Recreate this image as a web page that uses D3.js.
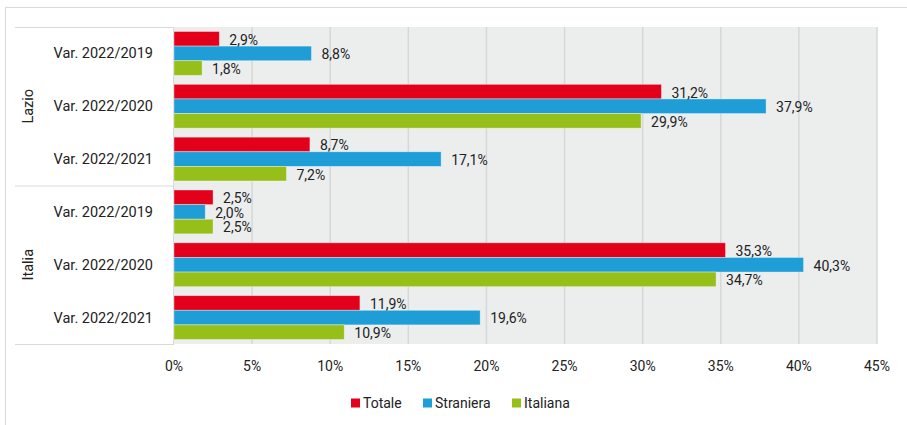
<!DOCTYPE html>
<html>
<head>
<meta charset="utf-8">
<script src="https://cdn.jsdelivr.net/npm/d3@7"></script>
<style>
  html, body { margin: 0; padding: 0; background: #fff; }
  svg { display: block; font-family: Roboto, "Noto Sans", sans-serif; }
</style>
</head>
<body>
<svg id="chart" width="907" height="425"></svg>
<script>
// Variazioni percentuali per area e periodo
const regions = ["Lazio", "Italia"];
const periods = ["Var. 2022/2019", "Var. 2022/2020", "Var. 2022/2021"];
const seriesNames = ["Totale", "Straniera", "Italiana"];
const seriesColors = ["#e2001a", "#1f9dd6", "#97bf19"];
const totale    = [2.9, 31.2, 8.7, 2.5, 35.3, 11.9];
const straniera = [8.8, 37.9, 17.1, 2.0, 40.3, 19.6];
const italiana  = [1.8, 29.9, 7.2, 2.5, 34.7, 10.9];
const tickValues = [0, 5, 10, 15, 20, 25, 30, 35, 40, 45];

const seriesValues = [totale, straniera, italiana];
const rows = [];
regions.forEach((r, ri) => periods.forEach((p, pi) => rows.push({ region: r, period: p, key: r + "|" + p, idx: ri * periods.length + pi })));

const svg = d3.select("#chart");
const fmt = v => d3.format(".1f")(v).replace(".", ",") + "%";

// outer frame
svg.append("rect").attr("x", 5.5).attr("y", 7.5).attr("width", 920).attr("height", 430)
  .attr("fill", "none").attr("stroke", "#d9d9d9");

const plotL = 174, plotR = 877, plotT = 27, plotB = 344;
const x = d3.scaleLinear().domain([0, 45]).range([plotL, plotR]);
const y = d3.scaleBand().domain(rows.map(d => d.key)).range([plotT, plotB]).paddingInner(0.17).paddingOuter(0.085);
const yg = d3.scaleBand().domain(d3.range(3)).range([0, y.bandwidth()]);

// plot background and grid
svg.append("rect").attr("x", plotL).attr("y", plotT).attr("width", plotR - plotL).attr("height", plotB - plotT).attr("fill", "#eceeee");
svg.append("g").selectAll("line").data(tickValues.filter(t => t > 0)).join("line")
  .attr("x1", d => x(d)).attr("x2", d => x(d)).attr("y1", plotT).attr("y2", plotB)
  .attr("stroke", "#d6d8d8").attr("stroke-width", 1.5);

// category column rules
const groupH = (plotB - plotT) / regions.length;
svg.append("g").selectAll("line").data(d3.range(regions.length + 1)).join("line")
  .attr("x1", 15).attr("x2", plotL).attr("y1", d => plotT + d * groupH + 0.5).attr("y2", d => plotT + d * groupH + 0.5)
  .attr("stroke", "#d9d9d9");
svg.append("line").attr("x1", plotL - 0.5).attr("x2", plotL - 0.5).attr("y1", plotT).attr("y2", plotB).attr("stroke", "#d9d9d9");

// region labels (rotated)
svg.append("g").selectAll("text").data(regions).join("text")
  .attr("transform", (d, i) => `translate(33,${plotT + (i + 0.5) * groupH}) rotate(-90)`)
  .attr("text-anchor", "middle").attr("font-size", 14.5).attr("fill", "#222").text(d => d);

// period labels
svg.append("g").selectAll("text").data(rows).join("text")
  .attr("x", 153).attr("y", d => y(d.key) + y.bandwidth() / 2).attr("dy", "0.35em")
  .attr("text-anchor", "end").attr("font-size", 14.5).attr("fill", "#222").text(d => d.period);

// bars and value labels
const rowG = svg.append("g").selectAll("g").data(rows).join("g")
  .attr("transform", d => `translate(0,${y(d.key)})`);
rowG.selectAll("rect").data(d => seriesValues.map((s, si) => ({ si, v: s[d.idx] }))).join("rect")
  .attr("x", x(0)).attr("y", d => yg(d.si)).attr("width", d => x(d.v) - x(0)).attr("height", yg.bandwidth())
  .attr("fill", d => seriesColors[d.si]).attr("stroke", "rgba(255,255,255,0.45)").attr("stroke-width", 0.8);
rowG.selectAll("text").data(d => seriesValues.map((s, si) => ({ si, v: s[d.idx] }))).join("text")
  .attr("x", d => x(d.v) + 10).attr("y", d => yg(d.si) + yg.bandwidth() / 2 + 1).attr("dy", "0.35em")
  .attr("font-size", 14).attr("fill", "#222").text(d => fmt(d.v));

// x axis labels
svg.append("g").selectAll("text").data(tickValues).join("text")
  .attr("x", d => x(d)).attr("y", 366).attr("dy", "0.35em").attr("text-anchor", "middle")
  .attr("font-size", 14).attr("fill", "#222").text(d => d + "%");

// legend
const legendX = [351, 423, 512];
const lg = svg.append("g").selectAll("g").data(seriesNames).join("g")
  .attr("transform", (d, i) => `translate(${legendX[i]},403)`);
lg.append("rect").attr("x", 0).attr("y", -4.5).attr("width", 9).attr("height", 9).attr("fill", (d, i) => seriesColors[i]);
lg.append("text").attr("x", 12).attr("y", 0).attr("dy", "0.35em").attr("font-size", 14).attr("fill", "#222").text(d => d);
</script>
</body>
</html>
